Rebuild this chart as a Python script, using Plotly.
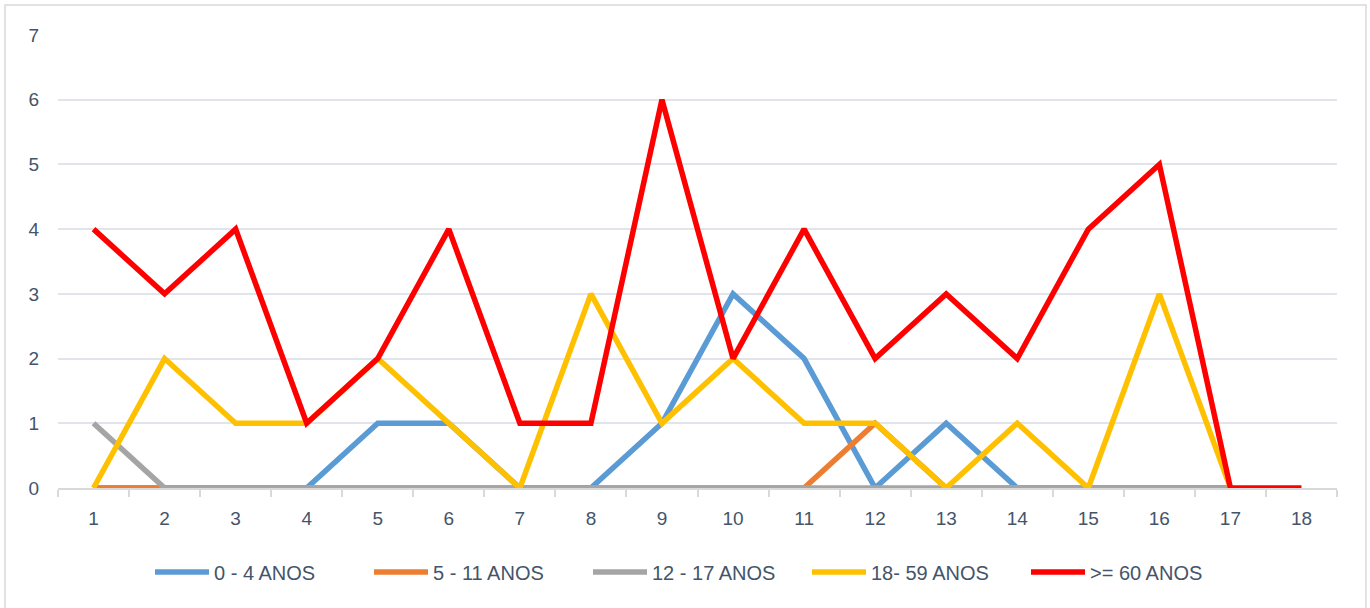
import plotly.graph_objects as go

categories = [str(i) for i in range(1, 19)]
s_0_4 = [0, 0, 0, 0, 1, 1, 0, 0, 1, 3, 2, 0, 1, 0, 0, 0, 0]
s_5_11 = [0, 0, 0, 0, 0, 0, 0, 0, 0, 0, 0, 1, 0, 0, 0, 0, 0]
s_12_17 = [1, 0, 0, 0, 0, 0, 0, 0, 0, 0, 0, 0, 0, 0, 0, 0, 0]
s_18_59 = [0, 2, 1, 1, 2, 1, 0, 3, 1, 2, 1, 1, 0, 1, 0, 3, 0]
s_60 = [4, 3, 4, 1, 2, 4, 1, 1, 6, 2, 4, 2, 3, 2, 4, 5, 0, 0]

names = ["0 - 4 ANOS", "5 - 11 ANOS", "12 - 17 ANOS", "18- 59 ANOS", ">= 60 ANOS"]
colors = ["#5B9BD5", "#ED7D31", "#A5A5A5", "#FFC000", "#FF0000"]
series = [s_0_4, s_5_11, s_12_17, s_18_59, s_60]

fig = go.Figure()
for name, color, vals in zip(names, colors, series):
    fig.add_trace(go.Scatter(
        x=categories[:len(vals)], y=vals, mode="lines", name=name,
        line=dict(color=color, width=5.5, shape="linear"),
    ))

font_fam = "Liberation Sans Narrow, Liberation Sans, Arial, sans-serif"
W, H = 1370, 608
L, R, T, B = 58, 1337, 35, 488
pw, ph = R - L, B - T
txt = "#44546A"

fig.update_layout(
    width=W, height=H,
    margin=dict(l=L, r=W - R, t=T, b=H - B, autoexpand=False),
    paper_bgcolor="white", plot_bgcolor="white",
    font=dict(family=font_fam, size=19, color=txt),
    showlegend=True,
    legend=dict(orientation="h", x=0.5, xanchor="center", y=-(572 - B) / ph, yanchor="middle",
                font=dict(family=font_fam, size=20, color=txt),
                itemwidth=54, entrywidth=150, traceorder="normal"),
    xaxis=dict(type="category", categoryorder="array", categoryarray=categories,
               range=[-0.5, 17.5], showgrid=False, showline=True,
               linecolor="#D9D9D9", linewidth=1.5, ticks="outside", tickson="boundaries",
               ticklen=7, tickcolor="#D9D9D9", tickwidth=1.5, ticklabelstandoff=12,
               tickfont=dict(family=font_fam, size=19, color=txt), fixedrange=True),
    yaxis=dict(range=[0, 7], dtick=1, showgrid=True, gridcolor="#E1E5EB", gridwidth=1.5,
               zeroline=False, showline=False, ticks="", ticklabelstandoff=18,
               tickfont=dict(family=font_fam, size=19, color=txt), fixedrange=True),
    shapes=[dict(type="rect", xref="paper", yref="paper",
                 x0=(5 - L) / pw, x1=(1366 - L) / pw,
                 y0=-(615 - B) / ph, y1=1 + (T - 5) / ph,
                 line=dict(color="#D9D9D9", width=1.5), layer="below")],
)

fig.write_html("out.html", config={"displayModeBar": False},
               post_script="document.body.style.margin='0';")
